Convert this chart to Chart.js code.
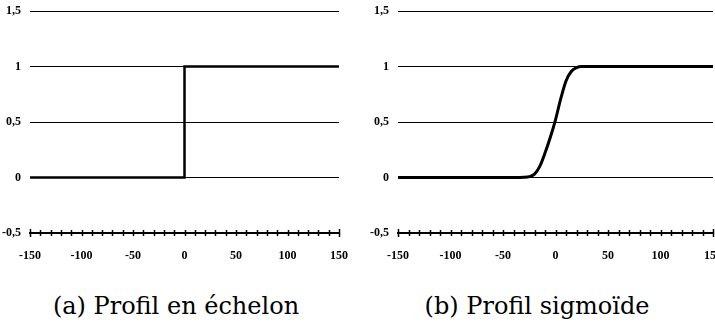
<!DOCTYPE html>
<html>
<head>
<meta charset="utf-8">
<script src="https://cdn.jsdelivr.net/npm/chart.js@4/dist/chart.umd.min.js"></script>
<style>
  html, body { margin: 0; padding: 0; background: #fff; }
  body { width: 715px; height: 331px; position: relative; overflow: hidden; }
  .box { position: absolute; top: 0; height: 270px; }
  #boxA { left: 0; width: 356px; }
  #boxB { left: 368px; width: 362px; }
  .caption {
    position: absolute; top: 292px; width: 320px; text-align: center;
    font-family: "DejaVu Serif", "Liberation Serif", serif; font-size: 24px; color: #000;
    white-space: nowrap;
  }
  #capA { left: 16px; }
  #capB { left: 377px; }
</style>
</head>
<body>
<div class="box" id="boxA"><canvas id="chartA"></canvas></div>
<div class="box" id="boxB"><canvas id="chartB"></canvas></div>
<div class="caption" id="capA">(a) Profil en échelon</div>
<div class="caption" id="capB">(b) Profil sigmoïde</div>
<script>
// Axis ranges and tick steps
const xRange = [-150, 150];
const yRange = [-0.5, 1.5];
const xMinorStep = 10;
const xLabelStep = 50;
const yStep = 0.5;

// Step profile: 0 before the origin, 1 after it
const stepX = [-150, 0, 0, 150];
const stepY = [0, 0, 1, 1];

// Sigmoid profile, read point by point
const sigX = [-150, -40, -30, -25, -20, -15, -10, -5, 0, 5, 10, 15, 20, 25, 30, 40, 150];
const sigY = [0, 0, 0.002, 0.008, 0.03, 0.1, 0.22, 0.36, 0.52, 0.71, 0.87, 0.955, 0.99, 1, 1, 1, 1];

const tickFont = { family: '"Liberation Serif", "Times New Roman", serif', size: 12, weight: 'bold' };

// Cross-shaped ticks straddling the bottom axis line
const crossTicks = {
  id: 'crossTicks',
  afterDraw(chart) {
    const xs = chart.scales.x;
    const y0 = chart.chartArea.bottom;
    const ctx = chart.ctx;
    ctx.save();
    ctx.strokeStyle = '#000';
    ctx.lineWidth = 1.5;
    xs.ticks.forEach((t, i) => {
      const px = Math.round(xs.getPixelForValue(t.value)) + 0.5;
      const end = (i === 0 || i === xs.ticks.length - 1);
      const h = end ? 4 : 3;
      ctx.beginPath();
      ctx.moveTo(px, y0 - h);
      ctx.lineTo(px, y0 + h);
      ctx.stroke();
    });
    ctx.restore();
  }
};

function toPoints(xs, ys) {
  return xs.map((x, i) => ({ x: x, y: ys[i] }));
}

function makeChart(id, xs, ys, smooth) {
  return new Chart(document.getElementById(id), {
    type: 'line',
    data: {
      datasets: [{
        data: toPoints(xs, ys),
        borderColor: '#000',
        borderWidth: smooth ? 3 : 2.5,
        pointRadius: 0,
        fill: false,
        tension: 0,
        cubicInterpolationMode: smooth ? 'monotone' : 'default',
        borderCapStyle: 'butt',
        borderJoinStyle: 'miter'
      }]
    },
    options: {
      responsive: true,
      maintainAspectRatio: false,
      animation: false,
      events: [],
      layout: { padding: { top: 11, left: 0, right: 0, bottom: 0 } },
      plugins: { legend: { display: false }, tooltip: { enabled: false } },
      scales: {
        x: {
          type: 'linear',
          min: xRange[0], max: xRange[1],
          grid: { display: false },
          border: { display: true, color: '#000', width: 2 },
          ticks: {
            stepSize: xMinorStep,
            autoSkip: false,
            maxRotation: 0,
            padding: 8,
            color: '#000',
            font: tickFont,
            callback: v => (v % xLabelStep === 0 ? String(v) : '')
          },
          afterFit: s => { s.height = 37; }
        },
        y: {
          type: 'linear',
          min: yRange[0], max: yRange[1],
          grid: { display: true, drawTicks: false, color: '#000', lineWidth: 1 },
          border: { display: false },
          ticks: {
            stepSize: yStep,
            padding: 9,
            color: '#000',
            font: tickFont,
            callback: v => String(v).replace('.', ',')
          },
          afterFit: s => { s.width = 30; s.paddingTop = 0; s.paddingBottom = 0; }
        }
      }
    },
    plugins: [crossTicks]
  });
}

makeChart('chartA', stepX, stepY, false);
makeChart('chartB', sigX, sigY, true);
</script>
</body>
</html>
